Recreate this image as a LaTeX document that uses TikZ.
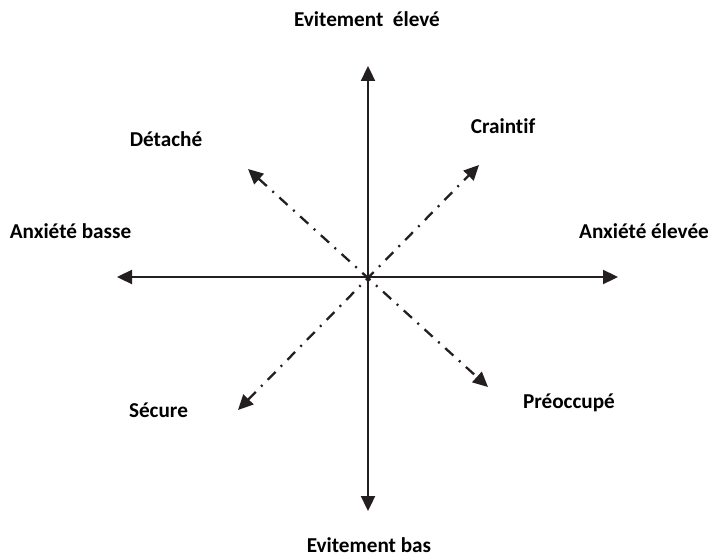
\documentclass[tikz,border=0pt]{standalone}
\usepackage{fontspec}
\setmainfont{Carlito}[Ligatures=NoCommon]
\usetikzlibrary{arrows.meta}
\begin{document}
\begin{tikzpicture}[x=1pt,y=-1pt,
  lbl/.style={anchor=base,inner sep=0pt,font=\fontsize{21.2}{25}\selectfont\bfseries},
  axis/.style={line width=2.3pt,draw={rgb,255:red,35;green,31;blue,32},-{Triangle[length=15pt,width=14pt]}},
  diag/.style={line width=2.3pt,draw={rgb,255:red,35;green,31;blue,32},dash pattern=on 11pt off 7.5pt on 2pt off 7.5pt,
    {Triangle[length=15pt,width=14pt]}-{Triangle[length=15pt,width=14pt]}}]
\useasboundingbox (0,0) rectangle (711,556);
\coordinate (c) at (368,277);
\coordinate (top) at (368,66);
\coordinate (bot) at (368,511);
\coordinate (lft) at (117,277);
\coordinate (rgt) at (618,277);
\coordinate (nw) at (248,169);
\coordinate (se) at (488,387);
\coordinate (ne) at (479,165);
\coordinate (sw) at (238,410);
\draw[axis] (c) -- (top);
\draw[axis] (c) -- (bot);
\draw[axis] (c) -- (lft);
\draw[axis] (c) -- (rgt);
\draw[diag] (nw) -- (se);
\draw[diag] (sw) -- (ne);
\node[lbl] (ee) at (367,27) {Evitement\ \ élevé};
\node[lbl] (eb) at (369,552) {Evitement bas};
\node[lbl] (ab) at (70.5,238) {Anxiété basse};
\node[lbl] (ae) at (644,238) {Anxiété élevée};
\node[lbl] (de) at (166,147) {Détaché};
\node[lbl] (cr) at (503,134) {Craintif};
\node[lbl] (sc) at (158.5,417) {Sécure};
\node[lbl] (pr) at (569,408) {Préoccupé};
\end{tikzpicture}
\end{document}
